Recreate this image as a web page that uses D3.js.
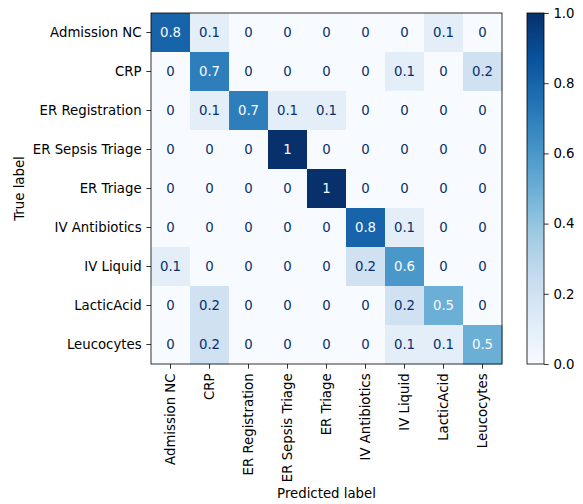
<!DOCTYPE html>
<html><head><meta charset="utf-8">
<script src="https://cdn.jsdelivr.net/npm/d3@7"></script>
<style>body{margin:0;background:#fff}svg{display:block}text{font-family:"DejaVu Sans",sans-serif}</style>
</head><body>
<svg id="c" width="583" height="504"></svg>
<script>
const labels = ["Admission NC","CRP","ER Registration","ER Sepsis Triage","ER Triage","IV Antibiotics","IV Liquid","LacticAcid","Leucocytes"];
const matrix = [
  [0.8,0.1,0,0,0,0,0,0.1,0],
  [0,0.7,0,0,0,0,0.1,0,0.2],
  [0,0.1,0.7,0.1,0.1,0,0,0,0],
  [0,0,0,1,0,0,0,0,0],
  [0,0,0,0,1,0,0,0,0],
  [0,0,0,0,0,0.8,0.1,0,0],
  [0.1,0,0,0,0,0.2,0.6,0,0],
  [0,0.2,0,0,0,0,0.2,0.5,0],
  [0,0.2,0,0,0,0,0.1,0.1,0.5]
];
const cbarTicks = [0,0.2,0.4,0.6,0.8,1.0];
const blues = ['#f7fbff','#deebf7','#c6dbef','#9ecae1','#6baed6','#4292c6','#2171b5','#08519c','#08306b'];

const FS = "13.3px";
const svg = d3.select("#c");
const L=151, T=13, S=351;
const x = d3.scaleBand().domain(labels).range([L,L+S]);
const y = d3.scaleBand().domain(labels).range([T,T+S]);
const color = d3.scaleLinear().domain(blues.map((_,i)=>i/(blues.length-1))).range(blues).clamp(true);

const cells = [];
matrix.forEach((row,i)=>row.forEach((v,j)=>cells.push({r:labels[i],c:labels[j],v})));
svg.append("g").selectAll("rect").data(cells).join("rect")
  .attr("x",d=>x(d.c)).attr("y",d=>y(d.r))
  .attr("width",x.bandwidth()+0.5).attr("height",y.bandwidth()+0.5)
  .attr("fill",d=>color(d.v));
svg.append("g").selectAll("text").data(cells).join("text")
  .attr("x",d=>x(d.c)+x.bandwidth()/2).attr("y",d=>y(d.r)+y.bandwidth()/2)
  .attr("text-anchor","middle").attr("dominant-baseline","central")
  .attr("font-size",FS)
  .attr("fill",d=>d.v>=0.5?blues[0]:blues[8])
  .text(d=>String(d.v));

svg.append("rect").attr("x",L).attr("y",T).attr("width",S).attr("height",S)
  .attr("fill","none").attr("stroke","#000").attr("stroke-width",0.8);

const fmtAxis = g=>{g.select(".domain").remove();g.selectAll(".tick line").attr("stroke","#000").attr("stroke-width",0.8);g.selectAll(".tick text").attr("font-size",FS).attr("fill","#000").attr("font-family","DejaVu Sans, sans-serif");};

svg.append("g").attr("transform",`translate(${L},0)`)
  .call(d3.axisLeft(y).tickSize(4.7).tickPadding(4.7)).call(fmtAxis);
const gx = svg.append("g").attr("transform",`translate(0,${T+S})`)
  .call(d3.axisBottom(x).tickSize(4.7).tickPadding(4.7)).call(fmtAxis);
gx.selectAll(".tick text").attr("transform","rotate(-90)").attr("text-anchor","end")
  .attr("dy","0.35em").attr("x",-9.4).attr("y",0);

svg.append("text").attr("x",L+S/2).attr("y",498).attr("text-anchor","middle").attr("font-size",FS).text("Predicted label");
svg.append("text").attr("transform",`translate(24,${T+S/2}) rotate(-90)`).attr("text-anchor","middle").attr("font-size",FS).text("True label");

// colorbar
const CX=527, CW=17;
const defs = svg.append("defs");
const grad = defs.append("linearGradient").attr("id","g").attr("x1",0).attr("y1",1).attr("x2",0).attr("y2",0);
blues.forEach((c,i)=>grad.append("stop").attr("offset",i/(blues.length-1)).attr("stop-color",c));
svg.append("rect").attr("x",CX).attr("y",T).attr("width",CW).attr("height",S).attr("fill","url(#g)");
svg.append("rect").attr("x",CX).attr("y",T).attr("width",CW).attr("height",S).attr("fill","none").attr("stroke","#000").attr("stroke-width",0.8);
const cy = d3.scaleLinear().domain([0,1]).range([T+S,T]);
svg.append("g").attr("transform",`translate(${CX+CW},0)`)
  .call(d3.axisRight(cy).tickValues(cbarTicks).tickFormat(d3.format(".1f")).tickSize(4.7).tickPadding(4.7)).call(fmtAxis);
</script>
</body></html>
